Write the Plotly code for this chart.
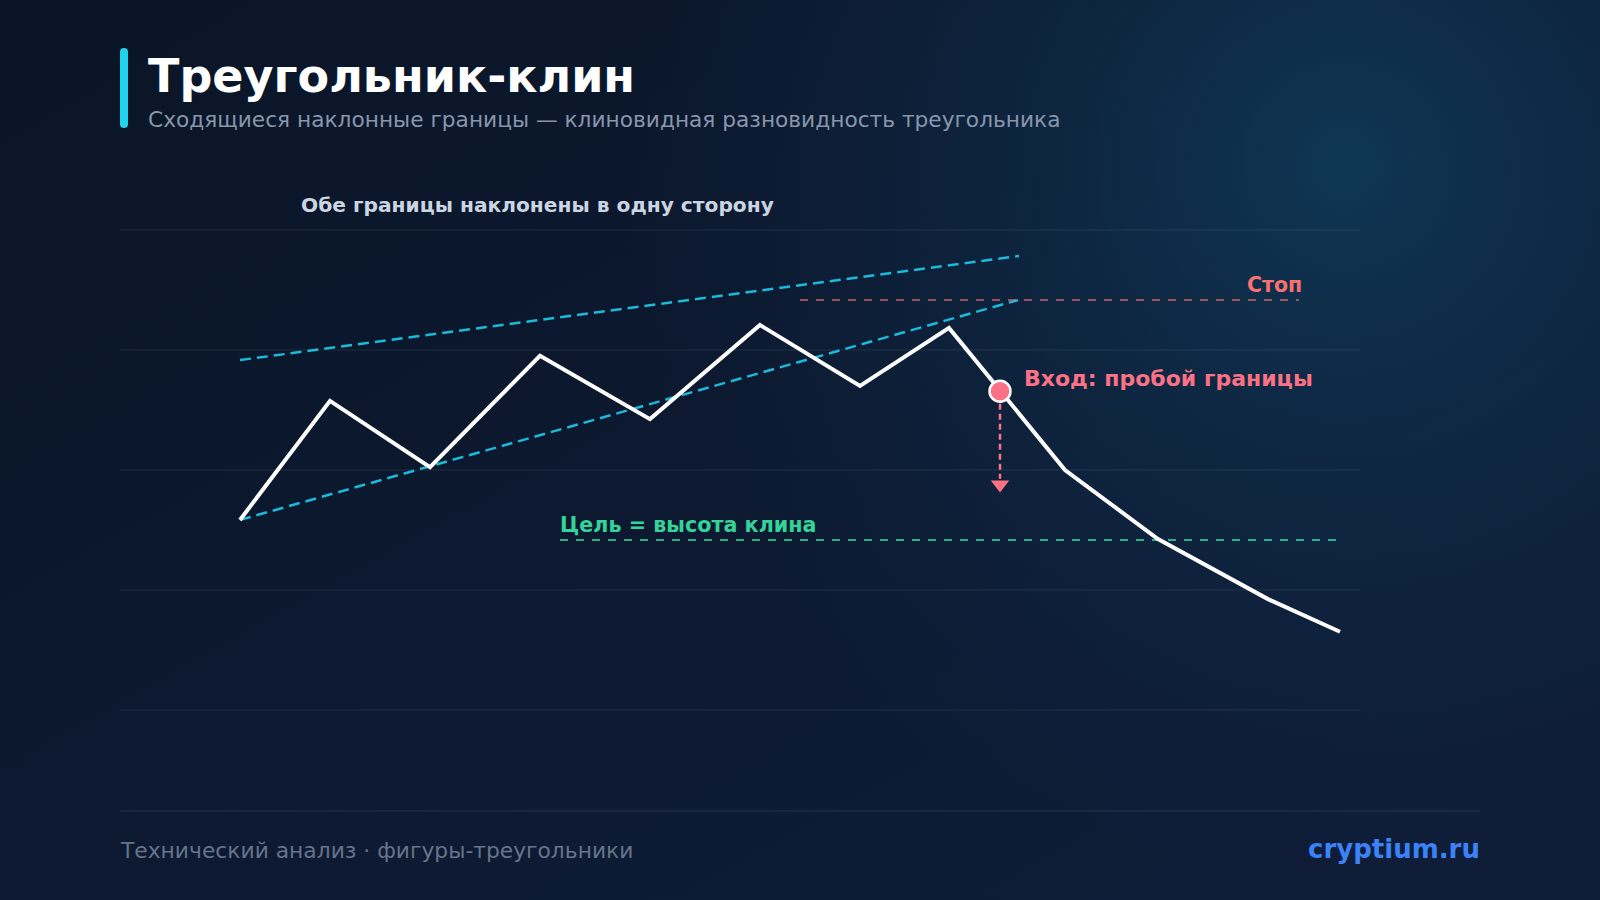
import base64
import plotly.graph_objects as go

# ---------------- data ----------------
price_x = [12, 21, 31, 42, 53, 64, 74, 82.9, 94.5, 103.8, 114.8, 122]
price_y = [39.6, 64.4, 50.6, 73.8, 60.6, 80.2, 67.5, 79.6, 50.0, 35.6, 23.1, 16.3]

upper_x = [12, 89.9]
upper_y = [72.9, 94.6]
lower_x = [12, 89.8]
lower_y = [39.6, 85.4]

stop_x = [68, 117.9]
stop_y = [85.4, 85.4]
target_x = [44, 121.7]
target_y = [35.4, 35.4]

entry_x = [88]
entry_y = [66.4]
arrow_x = [88, 88]
arrow_y = [63.8, 48.2]
arrow_head_y = [47.0]

grid_vals = [0, 25, 50, 75, 100]

title_text = "Треугольник-клин"
subtitle_text = "Сходящиеся наклонные границы — клиновидная разновидность треугольника"
note_text = "Обе границы наклонены в одну сторону"
stop_text = "Стоп"
entry_text = "Вход: пробой границы"
target_text = "Цель = высота клина"
footer_left = "Технический анализ · фигуры-треугольники"
footer_right = "cryptium.ru"

W, H = 1600, 900
FONT = "DejaVu Sans"

# ---------------- background (gradient image) ----------------
svg = f"""<svg xmlns='http://www.w3.org/2000/svg' width='{W}' height='{H}'>
<defs>
<linearGradient id='lg' x1='0' y1='0' x2='1' y2='1'>
<stop offset='0' stop-color='#0a1527'/>
<stop offset='1' stop-color='#0f1d39'/>
</linearGradient>
<radialGradient id='rg' cx='1345' cy='165' r='720' gradientUnits='userSpaceOnUse'>
<stop offset='0' stop-color='#0f3c5a' stop-opacity='0.85'/>
<stop offset='0.45' stop-color='#0f3352' stop-opacity='0.45'/>
<stop offset='1' stop-color='#0f2c4a' stop-opacity='0'/>
</radialGradient>
</defs>
<rect width='{W}' height='{H}' fill='url(#lg)'/>
<rect width='{W}' height='{H}' fill='url(#rg)'/>
</svg>"""
bg_src = "data:image/svg+xml;base64," + base64.b64encode(svg.encode()).decode()

fig = go.Figure()

# wedge boundaries
fig.add_trace(go.Scatter(x=upper_x, y=upper_y, mode="lines",
                         line=dict(color="#1cbad9", width=2.5, dash="11px,6px"),
                         hoverinfo="skip"))
fig.add_trace(go.Scatter(x=lower_x, y=lower_y, mode="lines",
                         line=dict(color="#1cbad9", width=2.5, dash="11px,6px"),
                         hoverinfo="skip"))
# stop and target levels
fig.add_trace(go.Scatter(x=stop_x, y=stop_y, mode="lines",
                         line=dict(color="rgba(248,113,113,0.6)", width=2, dash="8px,8px"),
                         hoverinfo="skip"))
fig.add_trace(go.Scatter(x=target_x, y=target_y, mode="lines",
                         line=dict(color="rgba(52,211,153,0.8)", width=2, dash="8px,8px"),
                         hoverinfo="skip"))
# price path
fig.add_trace(go.Scatter(x=price_x, y=price_y, mode="lines",
                         line=dict(color="#ffffff", width=4),
                         hoverinfo="skip"))
# arrow to target
fig.add_trace(go.Scatter(x=arrow_x, y=arrow_y, mode="lines",
                         line=dict(color="#fb7185", width=2.5, dash="6px,4px"),
                         hoverinfo="skip"))
fig.add_trace(go.Scatter(x=[arrow_x[0]], y=arrow_head_y, mode="markers",
                         marker=dict(symbol="triangle-down", size=16, color="#fb7185",
                                     line=dict(width=0)),
                         hoverinfo="skip"))
# entry point
fig.add_trace(go.Scatter(x=entry_x, y=entry_y, mode="markers",
                         marker=dict(size=21, color="#fb7185",
                                     line=dict(color="#ffffff", width=2.5)),
                         hoverinfo="skip"))

# ---------------- axes ----------------
x0_px, x1_px = 120, 1360
xr = [0, 124]
yr = [-2, 102]
y_top_px = 230 - 2 * 4.8
y_bot_px = 710 + 2 * 4.8
fig.update_xaxes(range=xr, domain=[x0_px / W, x1_px / W], showgrid=False,
                 zeroline=False, showticklabels=False, showline=False, fixedrange=True)
fig.update_yaxes(range=yr, domain=[1 - y_bot_px / H, 1 - y_top_px / H],
                 tickvals=grid_vals, showgrid=True, gridcolor="rgba(148,163,184,0.07)",
                 gridwidth=2, zeroline=False, showticklabels=False, showline=False,
                 fixedrange=True)

# ---------------- shapes ----------------
shapes = [
    # accent bar (rounded)
    dict(type="path", xref="paper", yref="paper",
         path=("M {a},{b} L {a},{c} Q {a},{d} {m},{d} Q {e},{d} {e},{c} "
               "L {e},{b} Q {e},{f} {m},{f} Q {a},{f} {a},{b} Z").format(
             a=120 / W, e=128 / W, m=124 / W,
             b=1 - 52 / H, c=1 - 124 / H, d=1 - 128 / H, f=1 - 48 / H),
         fillcolor="#22d3ee", line=dict(width=0)),
    # footer separator
    dict(type="line", xref="paper", yref="paper",
         x0=120 / W, x1=1480 / W, y0=1 - 811 / H, y1=1 - 811 / H,
         line=dict(color="rgba(148,163,184,0.09)", width=2)),
]

# ---------------- annotations ----------------
ann = [
    dict(text=title_text, xref="paper", yref="paper", x=146 / W, y=1 - 76 / H,
         xanchor="left", yanchor="middle", showarrow=False,
         font=dict(family=FONT, size=46, color="#ffffff", weight="bold")),
    dict(text=subtitle_text, xref="paper", yref="paper", x=146 / W, y=1 - 119 / H,
         xanchor="left", yanchor="middle", showarrow=False,
         font=dict(family=FONT, size=21.7, color="#8896ab")),
    dict(text=note_text, xref="paper", yref="paper", x=537 / W, y=1 - 205 / H,
         xanchor="center", yanchor="middle",
         showarrow=False, font=dict(family=FONT, size=20.2, color="#cbd5e1", weight="bold")),
    dict(text=stop_text, x=118.4, y=88.5, xanchor="right", yanchor="middle",
         showarrow=False, font=dict(family=FONT, size=20.5, color="#f87171", weight="bold")),
    dict(text=entry_text, x=90.2, y=69.0, xanchor="left", yanchor="middle",
         showarrow=False, font=dict(family=FONT, size=22, color="#fb7185", weight="bold")),
    dict(text=target_text, x=43.8, y=38.5, xanchor="left", yanchor="middle",
         showarrow=False, font=dict(family=FONT, size=20.7, color="#34d399", weight="bold")),
    dict(text=footer_left, xref="paper", yref="paper", x=118 / W, y=1 - 850 / H,
         xanchor="left", yanchor="middle", showarrow=False,
         font=dict(family=FONT, size=21.8, color="#64748b")),
    dict(text=footer_right, xref="paper", yref="paper", x=1482 / W, y=1 - 849 / H,
         xanchor="right", yanchor="middle", showarrow=False,
         font=dict(family=FONT, size=26, color="#3b82f6", weight="bold")),
]

fig.update_layout(
    width=W, height=H,
    margin=dict(l=0, r=0, t=0, b=0),
    paper_bgcolor="#0c1830",
    plot_bgcolor="rgba(0,0,0,0)",
    showlegend=False,
    shapes=shapes,
    annotations=ann,
    images=[dict(source=bg_src, xref="paper", yref="paper", x=0, y=1,
                 sizex=1, sizey=1, xanchor="left", yanchor="top",
                 sizing="stretch", layer="below")],
    hovermode=False,
)

fig.write_html("out.html", config={"displayModeBar": False})
